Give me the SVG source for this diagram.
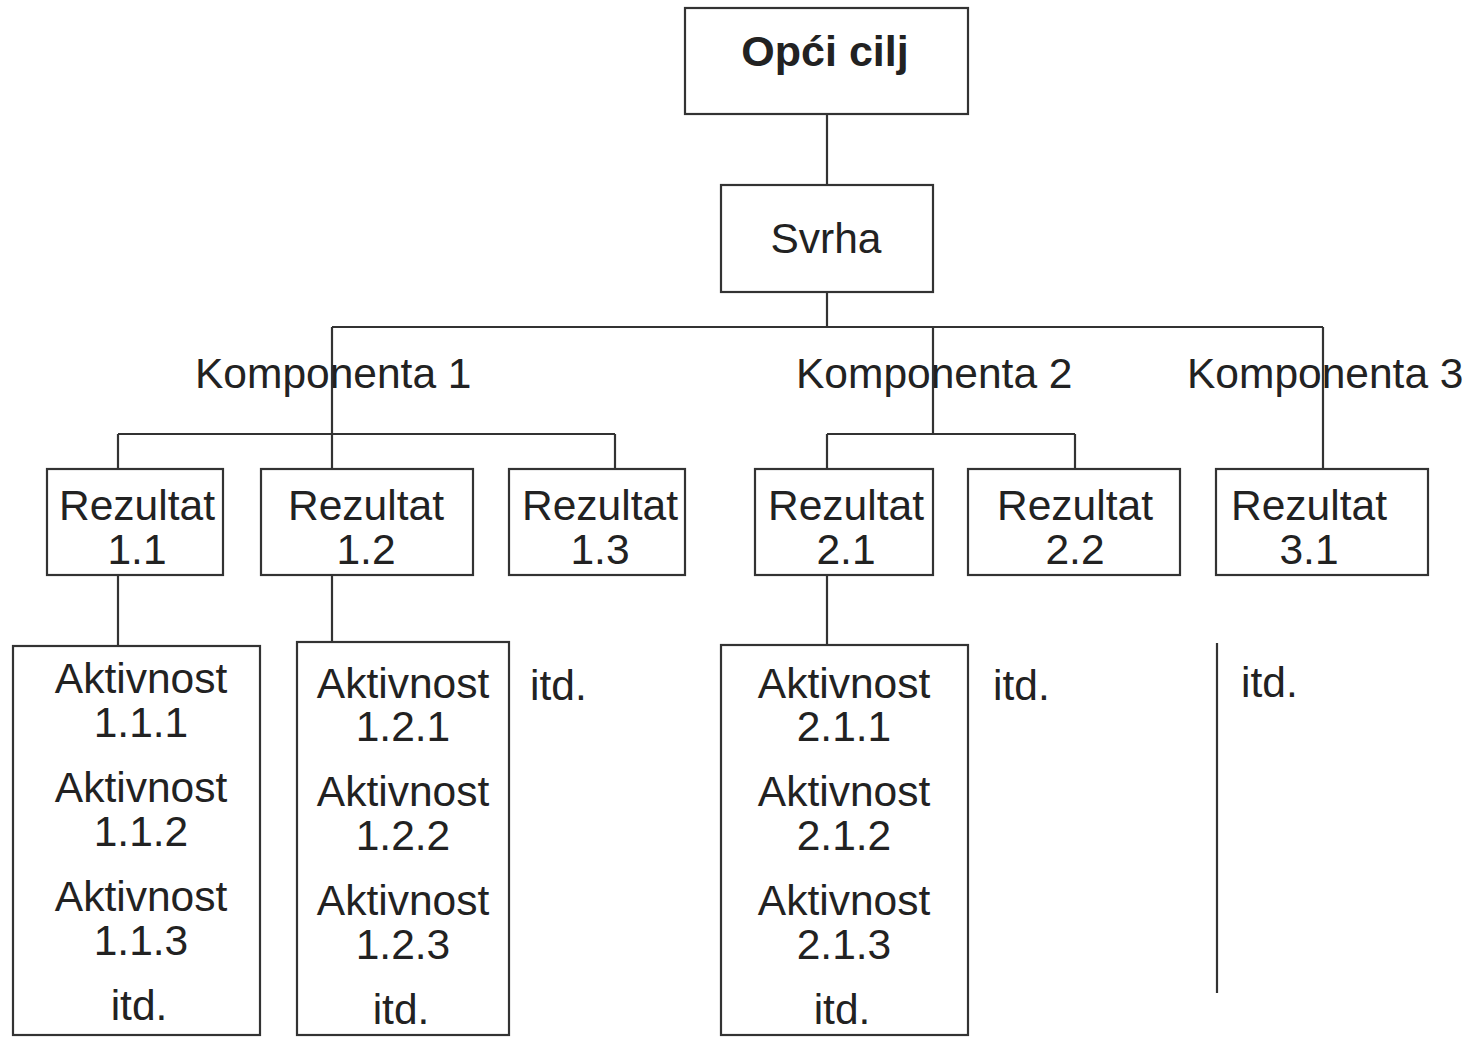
<svg xmlns="http://www.w3.org/2000/svg" width="1473" height="1037" viewBox="0 0 1473 1037">
<style>
.box{fill:#fff;stroke:#333;stroke-width:2.2}
.ln{fill:none;stroke:#333;stroke-width:2.2}
text{font-family:"Liberation Sans",Arial,sans-serif;font-size:42.5px;fill:#222}
.c{text-anchor:middle}
.b{font-weight:bold;font-size:43px}
</style>
<rect width="1473" height="1037" fill="#fff"/>
<g id="connectors">
<path class="ln" d="M827 114V185M827 292V327M332 327H1323M332 327V469M118 434H615M118 434V469M615 434V469M933 327V434M827 434H1075M827 434V469M1075 434V469M1323 327V469"/>
<path class="ln" d="M118 575V646M332 575V642M827 575V645"/>
<path class="ln" d="M1217 643V993"/>
</g>
<g id="opci-cilj"><rect class="box" x="685" y="8" width="283" height="106"/><text class="c b" x="825" y="66">Opći cilj</text></g>
<g id="svrha"><rect class="box" x="721" y="185" width="212" height="107"/><text class="c" x="826" y="253">Svrha</text></g>
<g id="komponenta1"><text x="195" y="388">Komponenta 1</text></g>
<g id="komponenta2"><text x="796" y="388">Komponenta 2</text></g>
<g id="komponenta3"><text x="1187" y="388">Komponenta 3</text></g>
<g id="rezultat-1-1"><rect class="box" x="47" y="469" width="176" height="106"/><text class="c" x="137" y="520">Rezultat</text><text class="c" x="137" y="564">1.1</text></g>
<g id="rezultat-1-2"><rect class="box" x="261" y="469" width="212" height="106"/><text class="c" x="366" y="520">Rezultat</text><text class="c" x="366" y="564">1.2</text></g>
<g id="rezultat-1-3"><rect class="box" x="509" y="469" width="176" height="106"/><text class="c" x="600" y="520">Rezultat</text><text class="c" x="600" y="564">1.3</text></g>
<g id="rezultat-2-1"><rect class="box" x="755" y="469" width="178" height="106"/><text class="c" x="846" y="520">Rezultat</text><text class="c" x="846" y="564">2.1</text></g>
<g id="rezultat-2-2"><rect class="box" x="968" y="469" width="212" height="106"/><text class="c" x="1075" y="520">Rezultat</text><text class="c" x="1075" y="564">2.2</text></g>
<g id="rezultat-3-1"><rect class="box" x="1216" y="469" width="212" height="106"/><text class="c" x="1309" y="520">Rezultat</text><text class="c" x="1309" y="564">3.1</text></g>
<g id="aktivnosti-1-1"><rect class="box" x="13" y="646" width="247" height="389"/>
<text class="c" x="141" y="693">Aktivnost</text><text class="c" x="141" y="737">1.1.1</text>
<text class="c" x="141" y="802">Aktivnost</text><text class="c" x="141" y="846">1.1.2</text>
<text class="c" x="141" y="911">Aktivnost</text><text class="c" x="141" y="955">1.1.3</text>
<text class="c" x="139" y="1020">itd.</text></g>
<g id="aktivnosti-1-2"><rect class="box" x="297" y="642" width="212" height="393"/>
<text class="c" x="403" y="698">Aktivnost</text><text class="c" x="403" y="741">1.2.1</text>
<text class="c" x="403" y="806">Aktivnost</text><text class="c" x="403" y="850">1.2.2</text>
<text class="c" x="403" y="915">Aktivnost</text><text class="c" x="403" y="959">1.2.3</text>
<text class="c" x="401" y="1024">itd.</text></g>
<g id="aktivnosti-2-1"><rect class="box" x="721" y="645" width="247" height="390"/>
<text class="c" x="844" y="698">Aktivnost</text><text class="c" x="844" y="741">2.1.1</text>
<text class="c" x="844" y="806">Aktivnost</text><text class="c" x="844" y="850">2.1.2</text>
<text class="c" x="844" y="915">Aktivnost</text><text class="c" x="844" y="959">2.1.3</text>
<text class="c" x="842" y="1024">itd.</text></g>
<g id="itd-1-3"><text x="530" y="700">itd.</text></g>
<g id="itd-2-2"><text x="993" y="700">itd.</text></g>
<g id="itd-3-1"><text x="1241" y="697">itd.</text></g>
</svg>
